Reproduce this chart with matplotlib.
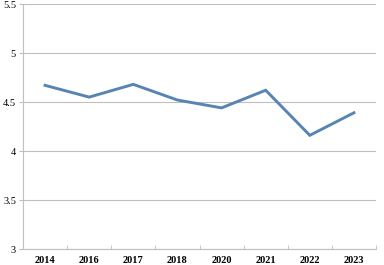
import numpy as np
import matplotlib
matplotlib.use("Agg")
import matplotlib.pyplot as plt

years = ["2014", "2016", "2017", "2018", "2020", "2021", "2022", "2023"]
values = [4.67, 4.55, 4.68, 4.52, 4.44, 4.62, 4.16, 4.39]

plt.rcParams['font.family'] = ['Liberation Serif', 'DejaVu Serif']

fig = plt.figure(figsize=(3.84, 2.65), dpi=100)
ax = fig.add_axes([23 / 384, 16 / 265, 353 / 384, 245 / 265])

x = np.arange(len(years))
ax.plot(x, values, color="#5884b4", linewidth=2.1, solid_joinstyle="miter")

ax.set_xlim(-0.5, len(years) - 0.5)
ax.set_ylim(3, 5.5)
ax.set_yticks(np.arange(3, 5.51, 0.5))
ax.set_yticklabels(["3", "3.5", "4", "4.5", "5", "5.5"])
ax.yaxis.grid(True, color="#bfbfbf", linewidth=0.8)
ax.set_axisbelow(True)

ax.set_xticks(x)
ax.set_xticklabels(years, fontweight="bold")
ax.set_xticks(np.arange(-0.5, len(years), 1), minor=True)
ax.tick_params(axis="x", which="major", length=0, labelsize=7.5, pad=5)
ax.tick_params(axis="x", which="minor", length=3, color="#bfbfbf", direction="in")
ax.tick_params(axis="y", length=3, color="#bfbfbf", labelsize=7.5, pad=2, direction="out")

for s in ["top", "right"]:
    ax.spines[s].set_visible(False)
ax.spines["left"].set_color("#bfbfbf")
ax.spines["bottom"].set_color("#bfbfbf")

fig.savefig("out.png", dpi=100)
